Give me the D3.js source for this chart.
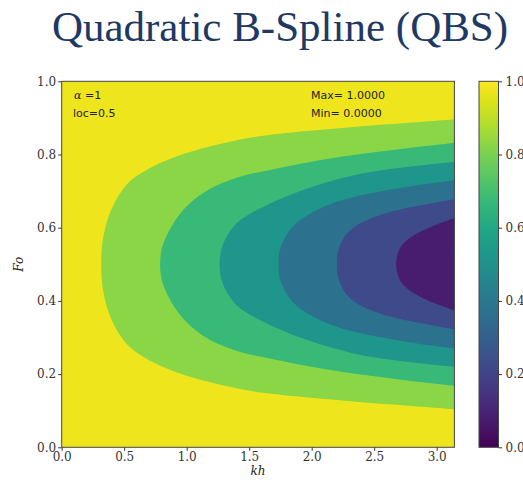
<!DOCTYPE html>
<meta charset="utf-8">
<html>
  <head>
    <style>
      body { margin: 0; background: #fff; }
      text.tick { font-family: "DejaVu Serif", serif; font-size: 12px; fill: #333; }
      text.note { font-family: "DejaVu Sans", sans-serif; font-size: 11px; fill: #222; }
      text.lbl { font-family: "DejaVu Serif", serif; font-style: italic; font-size: 12px; fill: #222; }
    </style>
    <script src="https://cdn.jsdelivr.net/npm/d3@7"></script>
  </head>
  <body>
    <div id="chart"></div>
    <script>
    // ticks
    var khTicks = [0, 0.5, 1.0, 1.5, 2.0, 2.5, 3.0];
    var foTicks = [0, 0.2, 0.4, 0.6, 0.8, 1.0];
    var cbTicks = [0, 0.2, 0.4, 0.6, 0.8, 1.0];

    // colour of each filled band, outer -> inner
    var bandValues = [0.975, 0.825, 0.675, 0.525, 0.375, 0.225, 0.075];

    // contour boundaries: [kh, half width about Fo=0.5]
    var b1 = [[0.315,0],[0.318,0.04],[0.333,0.08],[0.37,0.13],[0.43,0.176],[0.52,0.221],[0.6,0.243],[0.79,0.28],[1.05,0.311],[1.33,0.334],[1.586,0.352],[2.0,0.365],[2.35,0.376],[2.75,0.386],[Math.PI,0.396]];
    var b2 = [[0.786,0],[0.79,0.03],[0.813,0.061],[0.893,0.116],[1.0,0.161],[1.133,0.198],[1.293,0.225],[1.453,0.243],[1.586,0.252],[1.95,0.278],[2.346,0.3],[2.75,0.317],[Math.PI,0.332]];
    var b3 = [[1.261,0],[1.267,0.03],[1.293,0.061],[1.373,0.107],[1.48,0.134],[1.586,0.152],[1.666,0.167],[1.946,0.207],[2.346,0.248],[2.746,0.266],[Math.PI,0.28]];
    var b4 = [[1.733,0],[1.737,0.025],[1.746,0.044],[1.8,0.085],[1.88,0.116],[1.986,0.139],[2.12,0.162],[2.28,0.18],[2.466,0.194],[2.746,0.212],[Math.PI,0.23]];
    var b5 = [[2.2,0],[2.203,0.02],[2.213,0.039],[2.253,0.075],[2.333,0.103],[2.466,0.126],[2.626,0.144],[2.84,0.159],[Math.PI,0.178]];
    var b6 = [[2.674,0],[2.68,0.02],[2.706,0.048],[2.76,0.066],[2.84,0.085],[2.95,0.102],[3.05,0.115],[Math.PI,0.126]];
    var boundaries = [b1, b2, b3, b4, b5, b6];

    var W = 523, H = 489;
    var pL = 61.7, pR = 454.4, pT = 81.3, pB = 447.3;

    var x = d3.scaleLinear().domain([0, Math.PI]).range([pL, pR]);
    var y = d3.scaleLinear().domain([0, 1]).range([pB, pT]);
    var color = d3.scaleSequential(d3.interpolateViridis).domain([0, 1]);

    var svg = d3.select("#chart").append("svg")
        .attr("width", W).attr("height", H);

    // title
    svg.append("text")
        .attr("x", 280).attr("y", 41)
        .attr("text-anchor", "middle")
        .style("font-family", "Liberation Serif, serif")
        .style("font-size", "43px")
        .style("fill", "#203864")
        .text("Quadratic B-Spline (QBS)");

    svg.append("clipPath").attr("id", "plotclip")
      .append("rect")
        .attr("x", pL).attr("y", pT)
        .attr("width", pR - pL).attr("height", pB - pT);

    var plot = svg.append("g").attr("clip-path", "url(#plotclip)");

    plot.append("rect")
        .attr("x", pL).attr("y", pT)
        .attr("width", pR - pL).attr("height", pB - pT)
        .style("fill", color(bandValues[0]));

    var line = d3.line()
        .x(function(d) { return x(d[0]); })
        .y(function(d) { return y(d[1]); })
        .curve(d3.curveBasis);

    boundaries.forEach(function(b, i) {
      var lower = b.slice().reverse().map(function(p) { return [p[0], 0.5 - p[1]]; });
      var upper = b.slice(1).map(function(p) { return [p[0], 0.5 + p[1]]; });
      plot.append("path")
          .attr("d", line(lower.concat(upper)) + "Z")
          .style("fill", color(bandValues[i + 1]));
    });

    // axes
    var xAxis = d3.axisBottom(x).tickValues(khTicks).tickFormat(d3.format(".1f")).tickSize(3.5).tickPadding(1.5);
    var yAxis = d3.axisLeft(y).tickValues(foTicks).tickFormat(d3.format(".1f")).tickSize(3.5).tickPadding(2);

    var gx = svg.append("g").attr("transform", "translate(0," + pB + ")").call(xAxis);
    var gy = svg.append("g").attr("transform", "translate(" + pL + ",0)").call(yAxis);
    [gx, gy].forEach(function(g) {
      g.select(".domain").remove();
      g.attr("font-size", null).attr("font-family", null);
      g.selectAll("line").style("stroke", "#333");
      g.selectAll("text").attr("class", "tick");
    });

    svg.append("rect")
        .attr("x", pL).attr("y", pT)
        .attr("width", pR - pL).attr("height", pB - pT)
        .style("fill", "none").style("stroke", "#444").style("stroke-width", 1);

    // axis labels
    svg.append("text").attr("class", "lbl")
        .attr("x", (pL + pR) / 2).attr("y", 475)
        .attr("text-anchor", "middle")
        .text("kh");
    svg.append("text").attr("class", "lbl")
        .attr("transform", "translate(23," + y(0.5) + ") rotate(-90)")
        .attr("text-anchor", "middle")
        .text("Fo");

    // notes
    var n1 = svg.append("text").attr("class", "note").attr("x", 74).attr("y", 99);
    n1.append("tspan").style("font-family", "DejaVu Serif, serif").style("font-style", "italic").style("font-size", "11px").text("α");
    n1.append("tspan").text(" =1");
    svg.append("text").attr("class", "note").attr("x", 73).attr("y", 117).text("loc=0.5");
    svg.append("text").attr("class", "note").attr("x", 311).attr("y", 99).text("Max= 1.0000");
    svg.append("text").attr("class", "note").attr("x", 311).attr("y", 117).text("Min= 0.0000");

    // colour bar
    var cbLeft = 479, cbWidth = 19.5;
    var grad = svg.append("defs").append("linearGradient")
        .attr("id", "cbgrad").attr("x1", 0).attr("y1", 1).attr("x2", 0).attr("y2", 0);
    d3.range(0, 1.0001, 0.05).forEach(function(t) {
      grad.append("stop").attr("offset", t).attr("stop-color", color(t));
    });
    svg.append("rect")
        .attr("x", cbLeft).attr("y", pT)
        .attr("width", cbWidth).attr("height", pB - pT)
        .style("fill", "url(#cbgrad)").style("stroke", "#444").style("stroke-width", 1);
    var cAxis = d3.axisRight(y).tickValues(cbTicks).tickFormat(d3.format(".1f")).tickSize(3.5).tickPadding(3.5);
    var gc = svg.append("g").attr("transform", "translate(" + (cbLeft + cbWidth) + ",0)").call(cAxis);
    gc.select(".domain").remove();
    gc.attr("font-size", null).attr("font-family", null);
    gc.selectAll("line").style("stroke", "#333");
    gc.selectAll("text").attr("class", "tick");
    </script>
  </body>
</html>
